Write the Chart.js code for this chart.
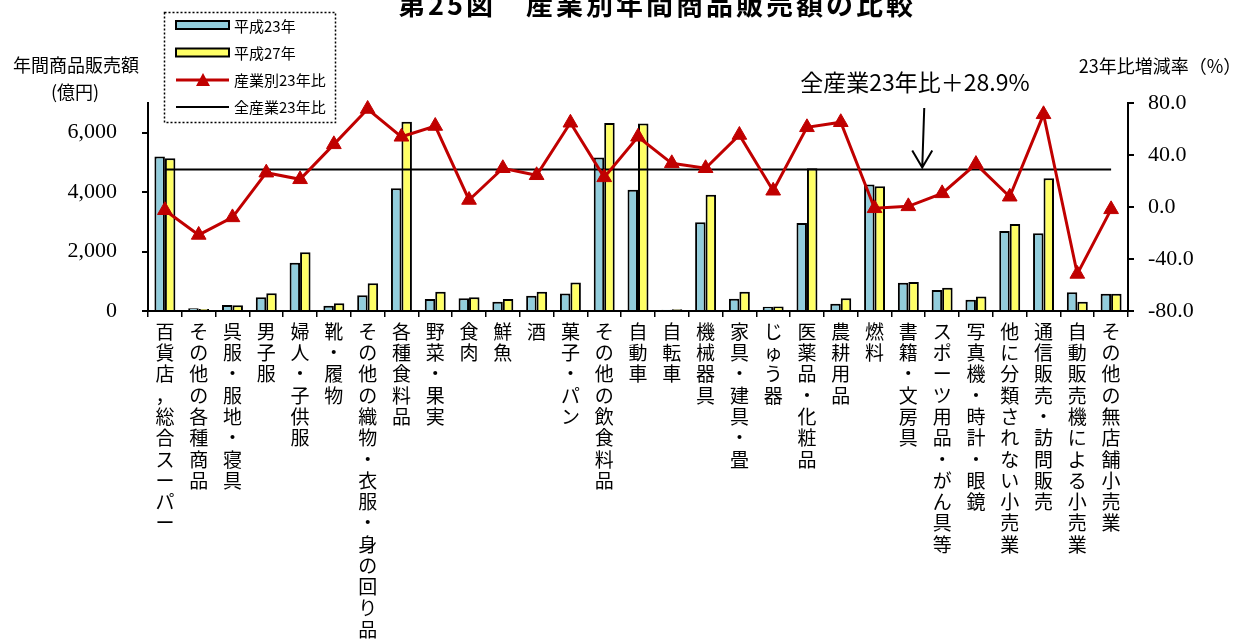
<!DOCTYPE html>
<html>
<head>
<meta charset="utf-8">
<script src="https://cdn.jsdelivr.net/npm/chart.js@4"></script>
<style>
body { margin: 0; background: #fff; overflow: hidden; }
</style>
</head>
<body>
<canvas id="salesChart" width="1254" height="640"></canvas>
<script>
const categories = [
    '百貨店，総合スーパー', 'その他の各種商品', '呉服・服地・寝具', '男子服', '婦人・子供服',
    '靴・履物', 'その他の織物・衣服・身の回り品', '各種食料品', '野菜・果実', '食肉',
    '鮮魚', '酒', '菓子・パン', 'その他の飲食料品', '自動車',
    '自転車', '機械器具', '家具・建具・畳', 'じゅう器', '医薬品・化粧品',
    '農耕用品', '燃料', '書籍・文房具', 'スポーツ用品・がん具等', '写真機・時計・眼鏡',
    '他に分類されない小売業', '通信販売・訪問販売', '自動販売機による小売業', 'その他の無店舗小売業'
];
const sales23 = [5200, 90, 200, 460, 1620, 180, 530, 4130, 400, 425,
    310, 515, 590, 5170, 4080, 45, 2990, 410, 145, 2960,
    245, 4260, 950, 705, 380, 2690, 2615, 635, 580];
const sales27 = [5140, 70, 190, 595, 1980, 260, 930, 6365, 650, 460,
    402, 650, 960, 6330, 6310, 55, 3910, 650, 150, 4800,
    425, 4200, 975, 780, 490, 2925, 4470, 315, 580];
const changeRate = [-2.5, -21.5, -8, 26.4, 21.3, 48.2, 75.4, 54, 62.3, 5.4,
    29.8, 24.4, 64.8, 22.8, 54, 33.6, 29.8, 55.4, 12.5, 61.3,
    65.2, -1, 0.5, 10.5, 33, 7.9, 71.3, -51.5, -1.8];
const allIndustryRate = 28.9;
const leftTicks = [0, 2000, 4000, 6000];
const rightTicks = [-80, -40, 0, 40, 80];

const sansJP = '"Noto Sans CJK JP", sans-serif';
const serif = '"Liberation Serif", "DejaVu Serif", serif';

const extras = {
    id: 'extras',
    afterDraw(chart) {
        const ctx = chart.ctx;
        const x = chart.scales.x;
        const yR = chart.scales.yR;
        ctx.save();
        ctx.fillStyle = '#000';
        ctx.textBaseline = 'middle';

        // title (top is cut off like the original)
        ctx.textAlign = 'center';
        ctx.font = 'bold 27px ' + sansJP;
        ctx.letterSpacing = '3px';
        ctx.fillText('第25図　産業別年間商品販売額の比較', 657, 5);
        ctx.letterSpacing = '0px';

        // axis titles
        ctx.font = '18px ' + sansJP;
        ctx.fillText('年間商品販売額', 76, 65);
        ctx.fillText('(億円)', 75, 92);
        ctx.fillText('23年比増減率（%）', 1160, 66);

        // legend
        ctx.strokeStyle = '#000';
        ctx.lineWidth = 1.5;
        ctx.setLineDash([2, 2]);
        ctx.strokeRect(164.5, 12.5, 171, 110);
        ctx.setLineDash([]);

        ctx.lineWidth = 2;
        ctx.fillStyle = '#92CDDC';
        ctx.fillRect(176, 21, 53, 8);
        ctx.strokeRect(176, 21, 53, 8);
        ctx.fillStyle = '#FFFF66';
        ctx.fillRect(176, 48.5, 53, 8);
        ctx.strokeRect(176, 48.5, 53, 8);

        ctx.strokeStyle = '#C00000';
        ctx.lineWidth = 3;
        ctx.beginPath();
        ctx.moveTo(176, 80);
        ctx.lineTo(229, 80);
        ctx.stroke();
        ctx.fillStyle = '#C00000';
        ctx.beginPath();
        ctx.moveTo(203, 73);
        ctx.lineTo(210, 86);
        ctx.lineTo(196, 86);
        ctx.closePath();
        ctx.fill();

        ctx.strokeStyle = '#000';
        ctx.lineWidth = 2;
        ctx.beginPath();
        ctx.moveTo(176, 107);
        ctx.lineTo(229, 107);
        ctx.stroke();

        ctx.fillStyle = '#000';
        ctx.textAlign = 'left';
        ctx.font = '15px ' + sansJP;
        ctx.fillText('平成23年', 234, 26);
        ctx.fillText('平成27年', 234, 53);
        ctx.fillText('産業別23年比', 234, 80);
        ctx.fillText('全産業23年比', 234, 107);

        // annotation arrow for the all-industry line
        const ax = (x.getPixelForValue(22) + x.getPixelForValue(23)) / 2 - 3;
        const tip = yR.getPixelForValue(allIndustryRate) - 2;
        ctx.textAlign = 'center';
        ctx.font = '23px ' + sansJP;
        ctx.fillText('全産業23年比＋28.9%', 915, 82);
        ctx.lineWidth = 2;
        ctx.beginPath();
        ctx.moveTo(ax + 2, 108);
        ctx.lineTo(ax, tip);
        ctx.moveTo(ax - 10, tip - 17);
        ctx.lineTo(ax, tip);
        ctx.lineTo(ax + 10, tip - 17);
        ctx.stroke();
        ctx.restore();
    }
};

const salesChart = new Chart(
    document.getElementById('salesChart'),
    {
        type: 'bar',
        data: {
            labels: categories.map(c => Array.from(c)),
            datasets: [
                {
                    type: 'bar',
                    label: '平成23年',
                    data: sales23,
                    yAxisID: 'y',
                    backgroundColor: '#92CDDC',
                    borderColor: '#000',
                    borderWidth: 2,
                    order: 2
                },
                {
                    type: 'bar',
                    label: '平成27年',
                    data: sales27,
                    yAxisID: 'y',
                    backgroundColor: '#FFFF66',
                    borderColor: '#000',
                    borderWidth: 2,
                    order: 2
                },
                {
                    type: 'line',
                    label: '産業別23年比',
                    data: changeRate,
                    yAxisID: 'yR',
                    borderColor: '#C00000',
                    backgroundColor: '#C00000',
                    borderWidth: 3,
                    pointStyle: 'triangle',
                    pointRadius: 8.5,
                    pointBorderWidth: 1,
                    tension: 0,
                    clip: false,
                    order: 0
                },
                {
                    type: 'line',
                    label: '全産業23年比',
                    data: categories.map(() => allIndustryRate),
                    yAxisID: 'yR',
                    borderColor: '#000',
                    borderWidth: 2,
                    pointRadius: 0,
                    tension: 0,
                    order: 1
                }
            ]
        },
        options: {
            responsive: false,
            animation: false,
            categoryPercentage: 0.62,
            barPercentage: 1,
            layout: {
                padding: { top: 103, left: 0, right: 0, bottom: 0 }
            },
            plugins: {
                legend: { display: false },
                title: { display: false },
                tooltip: { enabled: false }
            },
            scales: {
                x: {
                    grid: { drawOnChartArea: false, color: '#000', tickLength: 6, lineWidth: 1.5, offset: true },
                    border: { color: '#000', width: 2 },
                    ticks: {
                        color: '#000',
                        font: { family: sansJP, size: 19, lineHeight: 1.12 },
                        maxRotation: 0,
                        minRotation: 0,
                        autoSkip: false,
                        padding: 4
                    },
                    afterFit(scale) { scale.height = 329; }
                },
                y: {
                    position: 'left',
                    min: 0,
                    max: 7000,
                    afterBuildTicks(scale) { scale.ticks = leftTicks.map(v => ({ value: v })); },
                    grid: { drawOnChartArea: false, color: '#000', tickLength: 6, lineWidth: 2 },
                    border: { color: '#000', width: 2 },
                    ticks: {
                        color: '#000',
                        font: { family: serif, size: 22 },
                        padding: 25,
                        callback: v => v.toLocaleString('en-US')
                    },
                    afterFit(scale) { scale.width = 148; }
                },
                yR: {
                    position: 'right',
                    min: -80,
                    max: 80,
                    afterBuildTicks(scale) { scale.ticks = rightTicks.map(v => ({ value: v })); },
                    grid: { drawOnChartArea: false, color: '#000', tickLength: 6, lineWidth: 2 },
                    border: { color: '#000', width: 2 },
                    ticks: {
                        color: '#000',
                        font: { family: serif, size: 22 },
                        padding: 14,
                        callback: v => v.toFixed(1)
                    },
                    afterFit(scale) { scale.width = 126; }
                }
            }
        },
        plugins: [extras]
    }
);
</script>
</body>
</html>
